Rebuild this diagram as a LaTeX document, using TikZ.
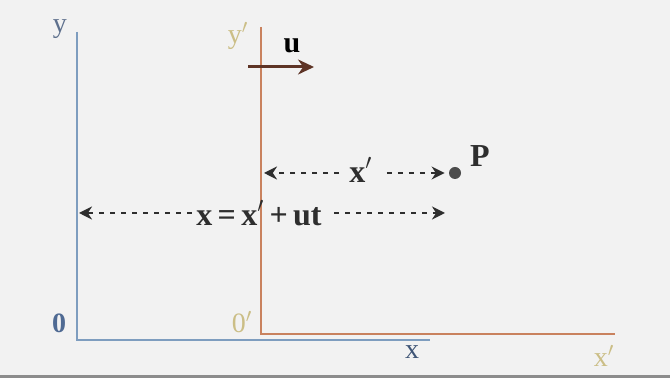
\documentclass[tikz,border=0pt]{standalone}
\usepackage{fontspec}
\setmainfont{Liberation Serif}
\usepackage{xcolor}
\usepackage{tikz}
\usetikzlibrary{
    arrows.meta,
    positioning,
    calc
}
\definecolor{paper}{HTML}{F2F2F2}
\definecolor{frameblue}{HTML}{7E9DBF}
\definecolor{framerust}{HTML}{C9825E}
\definecolor{labelblue}{HTML}{4F6A93}
\definecolor{labelkhaki}{HTML}{CBBE86}
\definecolor{velbrown}{HTML}{5E3426}
\definecolor{dimgrey}{HTML}{2E2E2E}

\begin{document}
\begin{tikzpicture}[
    x=0.5pt, y=-0.5pt,
    axis/.style={line width=1.25pt, draw=#1},
    lbl/.style={font=\fontsize{14}{16}\selectfont, text=#1, inner sep=1pt},
    dimlbl/.style={font=\fontsize{16}{18}\selectfont\bfseries, text=dimgrey, inner sep=1pt},
    dimarrow/.style={dimgrey, line width=1.2pt, dash pattern=on 2.5pt off 3pt, -{Stealth[length=6.5pt,width=6.5pt]}},
]
    % Background
    \fill[paper] (0,0) rectangle (670,378);
    \fill[black!45] (0,375) rectangle (670,378);
    \useasboundingbox (0,0) rectangle (670,378);

    % Frame S (blue)
    \coordinate (o) at (77,340);
    \coordinate (oy) at (77,32);
    \coordinate (ox) at (430,340);
    \draw[axis=frameblue] (oy) -- (o) -- (ox);
    \node[lbl=labelblue!70!gray] (ylab) at (60,29) {y};
    \node[lbl=labelblue, font=\fontsize{14}{16}\selectfont\bfseries] (olab) at (59,323) {0};
    \node[lbl=labelblue!80!black] (xlab) at (412,352) {x};

    % Frame S' (rust)
    \coordinate (op) at (261,334);
    \coordinate (opy) at (261,27);
    \coordinate (opx) at (615,334);
    \draw[axis=framerust] (opy) -- (op) -- (opx);
    \node[lbl=labelkhaki] (yplab) at (238,36) {y$'$};
    \node[lbl=labelkhaki] (oplab) at (242,322) {0$'$};
    \node[lbl=labelkhaki] (xplab) at (604,356) {x$'$};

    % Velocity of S'
    \coordinate (ustart) at (248,67);
    \coordinate (uend) at (314,67);
    \draw[velbrown, line width=1.5pt, -{Stealth[length=8pt,width=7.5pt]}] (ustart) -- (uend);
    \node[lbl=black, font=\fontsize{15}{17}\selectfont\bfseries] (ulab) at (292,46) {u};

    % Point P
    \node[circle, fill=black!70, minimum size=6pt, inner sep=0pt] (P) at (455,173) {};
    \node[dimlbl] (Plab) at (480,156) {P};

    % x' distance
    \node[dimlbl] (xpdist) at (361,170) {x$'$};
    \coordinate (xpleft) at (264,173);
    \draw[dimarrow] ($(xpdist.west |- P)+(-8,0)$) -- (xpleft);
    \draw[dimarrow, shorten >=2pt] ($(xpdist.east |- P)+(12,0)$) -- (P.west);

    % x = x' + ut distance
    \node[dimlbl] (xdist) at (259,213) {x\,=\,x$'$\,+\,ut};
    \coordinate (xleft) at (79,213);
    \coordinate (xright) at (445,213);
    \draw[dimarrow] ($(xdist.west)+(-2,0)$) -- (xleft);
    \draw[dimarrow] ($(xdist.east)+(10,0)$) -- (xright);

\end{tikzpicture}
\end{document}
